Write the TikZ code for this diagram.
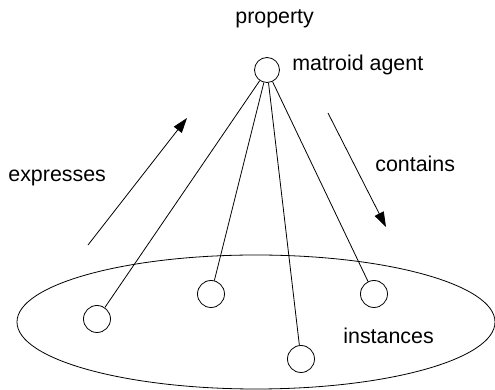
\documentclass[tikz,border=0pt]{standalone}
\usepackage{fontspec}
\setmainfont{Liberation Sans}
\usetikzlibrary{
  shapes.geometric, % Shape "ellipse"
  arrows.meta,
}
\tikzset{
  font=\fontsize{10.7}{13}\selectfont,
  line width=0.5pt,
  >={Triangle[length=7.5pt,width=5pt]},
  my vertex/.style={
    draw,
    circle,
    minimum size=13.5pt,
    inner sep=0mm
  },
  my set/.style={
    draw,
    ellipse,
    minimum width=239pt,
    minimum height=67pt,
    inner sep=0mm
  },
  my label/.style={
    inner sep=0mm,
    anchor=base west
  }
}

\begin{document}
\begin{tikzpicture}[x=0.5pt,y=-0.5pt]
\useasboundingbox (0,0) rectangle (495,390);
\node[my set] (set) at (256,322) {};
\node[my vertex,minimum size=12.5pt] (agent) at (267,70) {};
\node[my vertex] (i1) at (97,319) {};
\node[my vertex] (i2) at (211,294) {};
\node[my vertex] (i3) at (301,359) {};
\node[my vertex] (i4) at (374,294) {};
\path
  (agent) edge (i1) edge (i2) edge (i3) edge (i4);
% arrows beside the fan
\coordinate (ex0) at (88,245);
\coordinate (ex1) at (187,118);
\coordinate (co0) at (328,113);
\coordinate (co1) at (386,227);
\draw[->] (ex0) -- (ex1);
\draw[->] (co0) -- (co1);
% labels
\node[my label] (lprop) at (235,24) {property};
\node[my label] (lagent) at (292,71) {matroid agent};
\node[my label] (lexpr) at (8,182) {expresses};
\node[my label] (lcont) at (375,172) {contains};
\node[my label] (linst) at (343,344) {instances};
\end{tikzpicture}
\end{document}
